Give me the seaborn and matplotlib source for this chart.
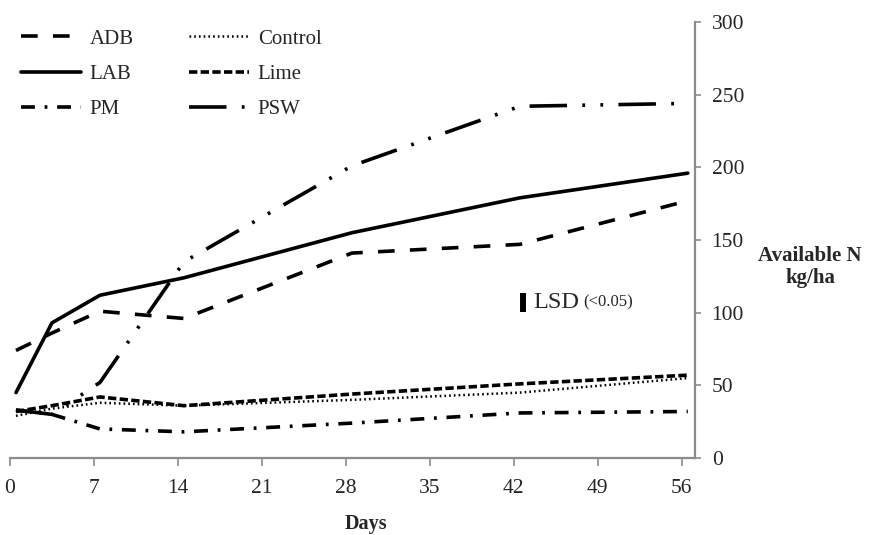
import matplotlib
matplotlib.use("Agg")
import matplotlib.pyplot as plt
import seaborn as sns
import numpy as np

# ---- data ----
days = [0, 3, 7, 14, 28, 42, 56]
adb = [74, 86, 101, 96, 141, 147, 177]
control = [29, 34, 38, 36, 40, 45, 55]
lab = [45, 93, 112, 124, 155, 179, 196]
lime = [32, 36, 42, 36, 44, 51, 57]
pm = [33, 30, 20, 18, 24, 31, 32]
psw = [33, 30, 52, 135, 201, 242, 244]
x_ticks = [0, 7, 14, 21, 28, 35, 42, 49, 56]
y_ticks = [0, 50, 100, 150, 200, 250, 300]
lsd_day = 42
lsd_low, lsd_high = 100.5, 113.5

sns.set_theme(style="white")
plt.rcParams['font.family'] = ['Liberation Serif', 'DejaVu Serif']
plt.rcParams['lines.scale_dashes'] = False

fig = plt.figure(figsize=(8.69, 5.35), dpi=100)
ax = fig.add_axes([10/869, 1-458/535, (695-10)/869, (458-22)/535])

# Excel-style date axis: points sit in the middle of each day
xpos = np.array(days) + 0.5

series = [
    ("ADB", adb, (0, (12, 11)), 2.6),
    ("LAB", lab, "-", 2.6),
    ("PM", pm, (0, (10, 7, 2, 7)), 2.6),
    ("Control", control, (0, (1.2, 2.2)), 1.8),
    ("Lime", lime, (0, (6, 2.4)), 2.6),
    ("PSW", psw, (0, (27, 11, 2, 11, 2, 11)), 2.6),
]
handles = []
for name, vals, ls, lw in series:
    sns.lineplot(x=xpos, y=vals, ax=ax, color="black", linewidth=lw,
                 linestyle=ls, label=name, legend=False)
    handles.append(ax.lines[-1])

ax.set_xlim(0, 57.1)
ax.set_ylim(0, 300)
ax.set_xticks(x_ticks)
ax.set_yticks(y_ticks)
ax.yaxis.tick_right()
ax.yaxis.set_label_position("right")
for s in ["left", "top"]:
    ax.spines[s].set_visible(False)
for s in ["right", "bottom"]:
    ax.spines[s].set_color("#8c8c8c")
    ax.spines[s].set_linewidth(1.6)
ax.tick_params(axis="x", direction="out", length=6, width=1.2, color="#8c8c8c",
               pad=9, labelsize=15.5, bottom=True)
ax.tick_params(axis="y", direction="out", length=4, width=1.2, color="#8c8c8c",
               pad=8, labelsize=15.5, right=True, left=False)
ax.set_xlabel("")
ax.set_ylabel("")

# LSD bar
ax.vlines(lsd_day + 0.75, lsd_low, lsd_high, color="black", linewidth=4.3)
t = ax.text(lsd_day + 1.6, (lsd_low + lsd_high) / 2, "LSD", fontsize=17.5,
            va="center", ha="left")
ax.annotate("(<0.05)", xy=(1, 0.12), xycoords=t, xytext=(3, 0),
            textcoords="offset points", fontsize=12, va="bottom", ha="left")

# legend
leg = fig.legend(handles=handles, labels=[s[0] for s in series], ncol=2,
                 loc="upper left", bbox_to_anchor=(21/869, 1-29/535),
                 frameon=False, fontsize=15, handlelength=2.9,
                 handletextpad=0.4, columnspacing=2.65, labelspacing=0.75,
                 borderaxespad=0, borderpad=0)

fig.text(810/869, 1-267/535, "Available N\nkg/ha", fontsize=15, fontweight="bold",
         ha="center", va="center", multialignment="center", linespacing=1.15)
fig.text(366/869, 1-524/535, "Days", fontsize=14.5, fontweight="bold",
         ha="center", va="center")

fig.savefig("out.png", dpi=100)
